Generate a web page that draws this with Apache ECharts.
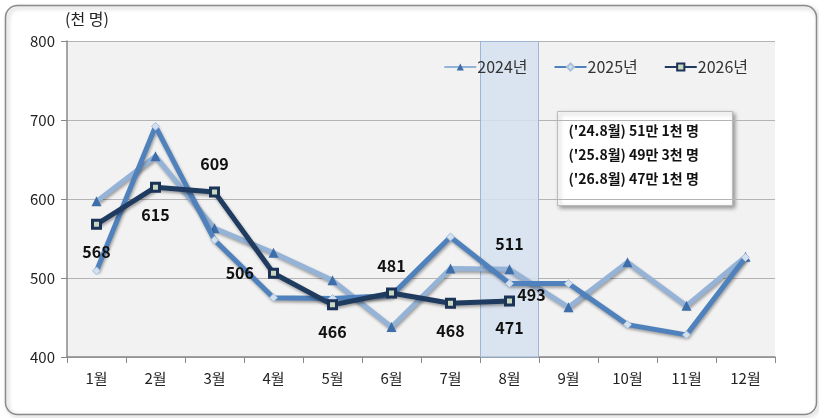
<!DOCTYPE html>
<html>
<head>
<meta charset="utf-8">
<script src="https://cdn.jsdelivr.net/npm/echarts@6/dist/echarts.min.js"></script>
<style>
  html, body { margin: 0; padding: 0; background: #fff; }
  #main { width: 819px; height: 418px; }
</style>
</head>
<body>
<div id="main"></div>
<script>
// 월별 데이터 (천 명)
const months = ['1월', '2월', '3월', '4월', '5월', '6월', '7월', '8월', '9월', '10월', '11월', '12월'];
const y2024 = [597, 654, 563, 532, 497, 438, 512, 511, 463, 520, 465, 527];
const y2025 = [509, 692, 548, 475, 474, 478, 552, 493, 493, 441, 428, 526];
const y2026 = [568, 615, 609, 506, 466, 481, 468, 471];
const yTicks = [400, 500, 600, 700, 800];
const highlightMonth = '8월';
const noteLines = ["('24.8월) 51만 1천 명", "('25.8월) 49만 3천 명", "('26.8월) 47만 1천 명"];

// 2026 라벨 위치
const pos2026 = ['bottom', 'bottom', 'top', 'left', 'bottom', 'top', 'bottom', 'bottom'];

const font = '"Noto Sans CJK KR", "Noto Sans", sans-serif';
const lineShadow = {shadowColor: 'rgba(0,0,0,0.35)', shadowBlur: 3, shadowOffsetX: 1, shadowOffsetY: 2};

let myChart = echarts.init(document.getElementById('main'));
myChart.setOption({
  backgroundColor: '#fff',
  textStyle: {fontFamily: font},
  animation: false,
  grid: {left: 67, right: 44, top: 41, bottom: 61, show: true, backgroundColor: '#f2f2f2', borderWidth: 0},
  legend: {
    data: ['2024년', '2025년', '2026년'],
    right: 66,
    top: 54,
    itemWidth: 32,
    itemHeight: 9,
    itemGap: 26,
    textStyle: {fontSize: 16, color: '#333', fontFamily: font, padding: [0, 0, 0, -4]}
  },
  xAxis: {
    type: 'category',
    data: months,
    axisLine: {lineStyle: {color: '#888', width: 1.5}},
    axisTick: {show: true, length: 6, lineStyle: {color: '#888'}},
    axisLabel: {fontSize: 15, color: '#222', margin: 14}
  },
  yAxis: {
    type: 'value',
    min: yTicks[0],
    max: yTicks[yTicks.length - 1],
    interval: 100,
    name: '(천 명)',
    nameLocation: 'end',
    nameGap: 14,
    nameTextStyle: {fontSize: 16, color: '#222', align: 'left', padding: [0, 0, 0, -2]},
    axisLine: {show: true, lineStyle: {color: '#888', width: 1.5}},
    axisTick: {show: true, length: 6, lineStyle: {color: '#888'}},
    axisLabel: {fontSize: 15, color: '#222', margin: 12},
    splitLine: {lineStyle: {color: '#b4b4b4', width: 1}}
  },
  series: [
    {
      name: 'highlight',
      type: 'bar',
      data: months.map(m => m === highlightMonth ? yTicks[yTicks.length - 1] : null),
      barWidth: '100%',
      itemStyle: {color: 'rgba(214,226,240,0.85)', borderColor: '#9db6d6', borderWidth: 1},
      silent: true,
      z: 1
    },
    {
      name: '2024년',
      type: 'line',
      data: y2024,
      symbol: 'triangle',
      symbolSize: 10,
      lineStyle: Object.assign({color: '#95b3d7', width: 5}, lineShadow),
      itemStyle: {color: '#3d6eaa', borderWidth: 0},
      label: {
        show: true,
        formatter: p => p.dataIndex === 7 ? p.value : '',
        position: 'top',
        distance: 12,
        fontSize: 16,
        fontWeight: 'bold',
        color: '#111'
      },
      z: 3
    },
    {
      name: '2025년',
      type: 'line',
      data: y2025,
      symbol: 'diamond',
      symbolSize: 8,
      lineStyle: Object.assign({color: '#4f81bd', width: 5}, lineShadow),
      itemStyle: {color: '#d3e0f0', borderColor: '#a9c0dc', borderWidth: 1},
      label: {
        show: true,
        formatter: p => p.dataIndex === 7 ? p.value : '',
        position: 'bottom',
        offset: [22, -6],
        fontSize: 16,
        fontWeight: 'bold',
        color: '#111'
      },
      z: 4
    },
    {
      name: '2026년',
      type: 'line',
      data: y2026.map((v, i) => ({value: v, label: {position: pos2026[i]}})),
      symbol: 'rect',
      symbolSize: 8,
      lineStyle: Object.assign({color: '#1f3b60', width: 5}, lineShadow),
      itemStyle: {color: '#c9d9c0', borderColor: '#1a3356', borderWidth: 3},
      label: {
        show: true,
        distance: 14,
        fontSize: 16,
        fontWeight: 'bold',
        color: '#111'
      },
      z: 5
    }
  ],
  graphic: [
    {
      type: 'rect',
      left: 3, top: 3,
      shape: {width: 811, height: 409, r: 12},
      style: {fill: 'none', stroke: '#8a8a8a', lineWidth: 1.5, shadowColor: 'rgba(0,0,0,0.3)', shadowBlur: 4, shadowOffsetX: 2, shadowOffsetY: 2},
      silent: true,
      z: -1
    },
    {
      type: 'group',
      left: 557, top: 111,
      children: [
        {
          type: 'rect',
          shape: {width: 175, height: 94},
          style: {fill: '#fff', stroke: '#bbb', lineWidth: 1, shadowColor: 'rgba(0,0,0,0.35)', shadowBlur: 4, shadowOffsetX: 2, shadowOffsetY: 2}
        }
      ].concat(noteLines.map((t, i) => ({
        type: 'text',
        left: 11, top: 12 + i * 24,
        style: {text: t, font: 'bold 14px ' + font, fill: '#111'}
      })))
    }
  ]
});
</script>
</body>
</html>
